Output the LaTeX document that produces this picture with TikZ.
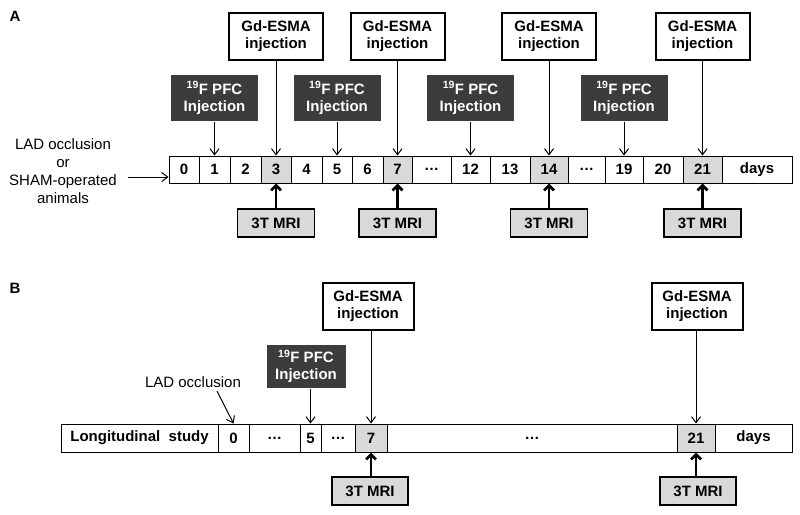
\documentclass[tikz,border=0pt]{standalone}
\usepackage{fontspec}
\setmainfont{Liberation Sans}
\usetikzlibrary{arrows.meta}
\definecolor{darkbox}{HTML}{3C3C3C}
\definecolor{lightcell}{HTML}{D9D9D9}
\tikzset{>={Straight Barb[length=6pt,width=9pt]}}
\tikzset{
  cell/.style={draw, inner sep=0pt, minimum height=27pt, font=\fontsize{15}{17}\selectfont\bfseries},
  gdbox/.style={draw, line width=2pt, minimum width=94pt, minimum height=47pt, align=center, font=\fontsize{15}{17}\selectfont\bfseries},
  pfcbox/.style={fill=darkbox, text=white, minimum width=87pt, minimum height=46pt, align=center, font=\fontsize{15}{17}\selectfont\bfseries},
  mribox/.style={draw, fill=lightcell, line width=1.4pt, minimum width=77pt, minimum height=28pt, font=\fontsize{15}{17}\selectfont\bfseries},
  plain/.style={align=center, font=\fontsize{15}{18}\selectfont},
  mriarrow/.style={-{Straight Barb[length=5pt,width=10pt]}, line width=2.8pt}
}
\begin{document}
\begin{tikzpicture}[x=1pt,y=-1pt,line width=1pt]
  \useasboundingbox (0,0) rectangle (800,514);
  % panel A
  \node[font=\fontsize{15}{17}\selectfont\bfseries] (la) at (15,16) {A};
  \foreach \n/\l/\r/\t/\f in {0/169/199/0/white, 1/199/230/1/white, 2/230/261/2/white,
      3/261/291/3/lightcell, 4/291/322/4/white, 5/322/352/5/white, 6/352/383/6/white,
      7/383/412/7/lightcell, d1/412/451/…/white, 12/451/490/12/white, 13/490/530/13/white,
      14/530/568/14/lightcell, d2/568/605/…/white, 19/605/643/19/white, 20/643/683/20/white,
      21/683/722/21/lightcell, days/722/792/days/white}
    \node[cell, fill=\f, minimum width={(\r-\l)*1pt}] (a\n) at ({(\l+\r)/2},169.5) {\t};
  \node[plain] (lada) at (63,171) {LAD occlusion\\or\\SHAM-operated\\animals};
  \coordinate (ladastart) at (128,177);
  \draw[->] (ladastart) -- (a0.west |- ladastart);
  \foreach \d in {3,7,14,21} {
    \node[gdbox] (ga\d) at (a\d |- 0,36.5) {Gd-ESMA\\injection};
    \draw[->] (ga\d) -- (a\d);
    \node[mribox] (ma\d) at (a\d |- 0,223) {3T MRI};
    \draw[mriarrow] (ma\d) -- (a\d);
  }
  \foreach \d in {1,5,12,19} {
    \node[pfcbox] (pa\d) at (a\d |- 0,98) {\textsuperscript{19}F PFC\\Injection};
    \draw[->] (pa\d) -- (a\d);
  }
  % panel B
  \node[font=\fontsize{15}{17}\selectfont\bfseries] (lb) at (15,288) {B};
  \foreach \n/\l/\r/\t/\f in {s/61/218/Longitudinal\ \ study/white, 0/218/249/0/white,
      d1/249/300/…/white, 5/300/321/5/white, d2/321/355/…/white, 7/355/387/7/lightcell,
      d3/387/677/…/white, 21/677/715/21/lightcell, days/715/792/days/white}
    \node[cell, fill=\f, minimum width={(\r-\l)*1pt}, minimum height=28pt] (b\n) at ({(\l+\r)/2},438) {\t};
  \node[plain] (ladb) at (193,382) {LAD occlusion};
  \coordinate (ladbstart) at (217,391);
  \draw[->] (ladbstart) -- (b0.north);
  \node[pfcbox, minimum width=79pt, minimum height=43pt] (pb5) at (306,366.5) {\textsuperscript{19}F PFC\\Injection};
  \draw[->] (pb5.south -| b5) -- (b5);
  \node[gdbox, minimum width=91pt] (gb7) at (368,306.5) {Gd-ESMA\\injection};
  \node[gdbox, minimum width=91pt] (gb21) at (697,306.5) {Gd-ESMA\\injection};
  \node[mribox, minimum width=76pt] (mb7) at (370,491) {3T MRI};
  \node[mribox, minimum width=76pt] (mb21) at (698,491) {3T MRI};
  \foreach \d in {7,21} {
    \draw[->] (gb\d.south -| b\d) -- (b\d);
    \draw[mriarrow] (mb\d.north -| b\d) -- (b\d);
  }
\end{tikzpicture}
\end{document}
